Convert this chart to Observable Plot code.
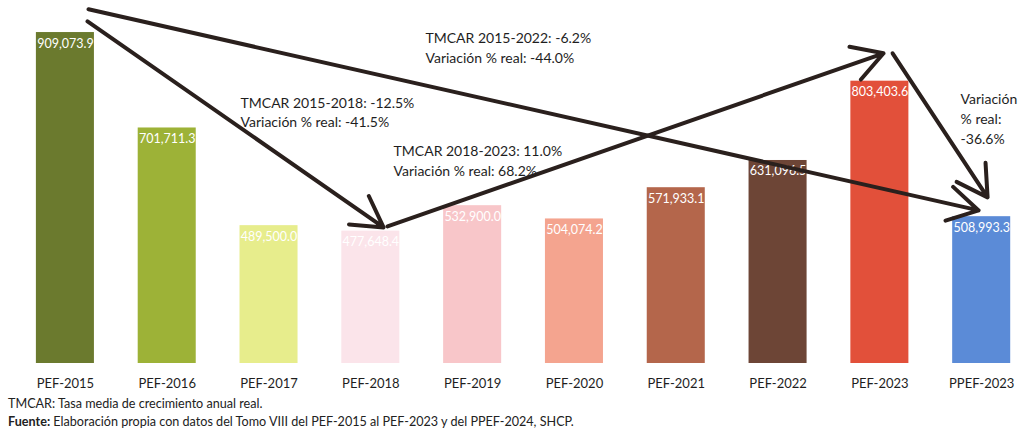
<!DOCTYPE html>
<html><head><meta charset="utf-8">
<script src="https://cdn.jsdelivr.net/npm/d3@7"></script>
<script src="https://cdn.jsdelivr.net/npm/@observablehq/plot@0.6"></script>
<style>
body{margin:0;background:#fff;font-family:Lato,"Open Sans",sans-serif;}
#notes{font-size:12.6px;color:#222;padding-left:8px;line-height:18px;}
</style></head><body>
<div id="chart"></div>
<div id="notes"><div>TMCAR: Tasa media de crecimiento anual real.</div><div><b>Fuente:</b> Elaboración propia con datos del Tomo VIII del PEF-2015 al PEF-2023 y del PPEF-2024, SHCP.</div></div>
<script>
const categories = ["PEF-2015","PEF-2016","PEF-2017","PEF-2018","PEF-2019","PEF-2020","PEF-2021","PEF-2022","PEF-2023","PPEF-2023"];
const values = [909073.9, 701711.3, 489500.0, 477648.4, 532900.0, 504074.2, 571933.1, 631096.5, 803403.6, 508993.3];
const colors = ["#6b7a2e","#9db237","#e7ed8c","#fbe4ea","#f8c6c9","#f4a48f","#b4664b","#6d4536","#e2503a","#5b8bd7"];

// Arrows (positions in data units: x = category index, y = value)
const arrowX1 = [0.227, 0.217, 3.164, 8.125];
const arrowY1 = [959600, 933500, 487800, 864000];
const arrowX2 = [8.97, 3.125, 8.036, 9.058];
const arrowY2 = [522600, 485700, 864000, 550900];

// Annotations
const noteText = [
  "TMCAR 2015-2018: -12.5%\nVariación % real: -41.5%",
  "TMCAR 2018-2023: 11.0%\nVariación % real: 68.2%",
  "TMCAR 2015-2022: -6.2%\nVariación % real: -44.0%",
  "Variación\n% real:\n-36.6%"
];
const noteX = [1.72, 3.223, 3.537, 8.793];
const noteY = [776000, 670000, 916000, 783000];

const yMin = 190000;
const idx = d3.range(categories.length);
const arrows = d3.range(arrowX1.length);
const notes = d3.range(noteText.length);
const fmt = d3.format(",.1f");
const half = 0.285;

const chart = Plot.plot({
  width: 1027, height: 395,
  marginLeft: 14, marginRight: 0, marginTop: 4, marginBottom: 32,
  style: {fontFamily: "Lato, 'Open Sans', sans-serif", color: "#1e1e1e", background: "#fff"},
  x: {type: "linear", domain: [-0.5, 9.45], axis: null},
  y: {domain: [yMin, 970000], axis: null},
  color: {type: "identity"},
  marks: [
    Plot.rectY(idx, {x1: i => i - half, x2: i => i + half, y1: yMin, y2: i => values[i], fill: i => colors[i]}),
    Plot.text(idx, {x: i => i, y: i => values[i], text: i => fmt(values[i]), dy: 11, fill: "white", fontSize: 12.5}),
    Plot.axisX({ticks: idx, tickFormat: i => categories[i], tickSize: 0, tickPadding: 15, fontSize: 13, anchor: "bottom"}),
    Plot.arrow(arrows, {x1: i => arrowX1[i], y1: i => arrowY1[i], x2: i => arrowX2[i], y2: i => arrowY2[i],
      stroke: "#2a201d", strokeWidth: 4, headLength: 13}),
    Plot.text(notes, {x: i => noteX[i], y: i => noteY[i], text: i => noteText[i], textAnchor: "start", lineAnchor: "top",
      lineHeight: 1.4, fontSize: 14, fill: "#1e1e1e"})
  ]
});
document.getElementById("chart").appendChild(chart);
</script>
</body></html>
